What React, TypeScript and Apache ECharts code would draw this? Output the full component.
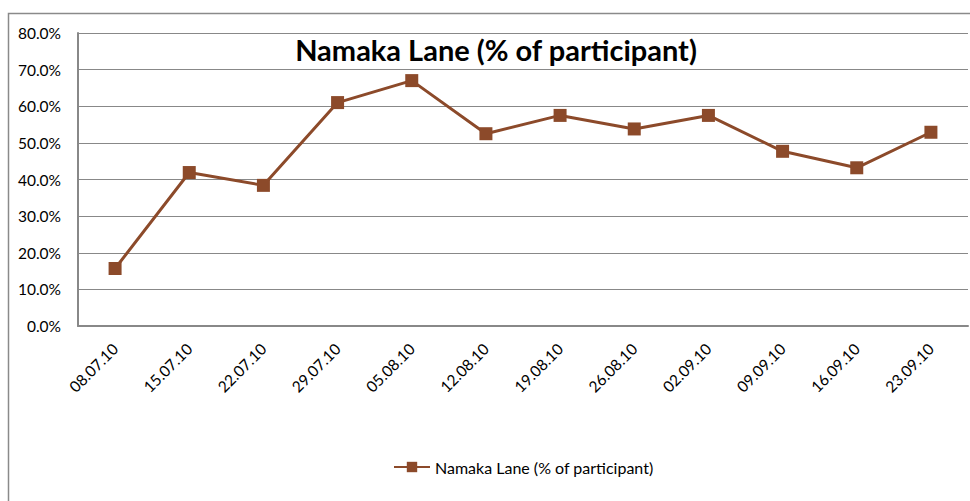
import React, { useEffect, useRef } from "react";
import * as echarts from "echarts";

const categories = [
  "08.07.10", "15.07.10", "22.07.10", "29.07.10", "05.08.10", "12.08.10",
  "19.08.10", "26.08.10", "02.09.10", "09.09.10", "16.09.10", "23.09.10",
];
const seriesName = "Namaka Lane (% of participant)";
const values = [15.7, 41.9, 38.4, 61.0, 67.0, 52.5, 57.5, 53.8, 57.5, 47.7, 43.2, 52.9];
const yMin = 0;
const yMax = 80;
const yInterval = 10;

const FONT = "Lato";
const BROWN = "#8c4a2a";

export default function App() {
  const ref = useRef<HTMLDivElement>(null);
  useEffect(() => {
    if (!ref.current) return;
    const chart = echarts.init(ref.current, null, { renderer: "svg" });
    chart.setOption({
      animation: false,
      backgroundColor: "#ffffff",
      textStyle: { fontFamily: FONT },
      title: {
        text: seriesName,
        left: 491,
        top: 30,
        textAlign: "center",
        textStyle: { fontFamily: FONT, fontSize: 29, fontWeight: "bold", color: "#000" },
      },
      graphic: [
        {
          type: "rect",
          shape: { x: 8.5, y: 13.5, width: 975, height: 500 },
          style: { fill: "none", stroke: "#8a8a8a", lineWidth: 1.5 },
          z: -1,
        },
      ],
      legend: {
        left: 388,
        top: 454,
        itemWidth: 36,
        itemHeight: 13,
        itemGap: 5,
        data: [seriesName],
        textStyle: { fontFamily: FONT, fontSize: 16, color: "#000" },
      },
      grid: { left: 78, right: 2, top: 33, bottom: 175, containLabel: false },
      xAxis: {
        type: "category",
        data: categories,
        boundaryGap: true,
        axisLine: { lineStyle: { color: "#888", width: 2 } },
        axisTick: { show: false },
        axisLabel: {
          rotate: 45,
          interval: 0,
          margin: 20,
          fontFamily: FONT,
          fontSize: 15.5,
          color: "#000",
        },
      },
      yAxis: {
        type: "value",
        min: yMin,
        max: yMax,
        interval: yInterval,
        axisLine: { show: true, lineStyle: { color: "#888", width: 2 } },
        axisTick: { show: false },
        splitLine: { lineStyle: { color: "#888", width: 1 } },
        axisLabel: {
          margin: 17,
          fontFamily: FONT,
          fontSize: 15.5,
          color: "#000",
          formatter: (v: number) => v.toFixed(1) + "%",
        },
      },
      series: [
        {
          name: seriesName,
          type: "line",
          data: values,
          symbol: "rect",
          symbolSize: 13,
          itemStyle: { color: BROWN },
          lineStyle: { color: BROWN, width: 3 },
        },
      ],
    });
    return () => chart.dispose();
  }, []);
  return (
    <div
      ref={ref}
      style={{ position: "absolute", left: 0, top: 0, width: 970, height: 501 }}
    />
  );
}
